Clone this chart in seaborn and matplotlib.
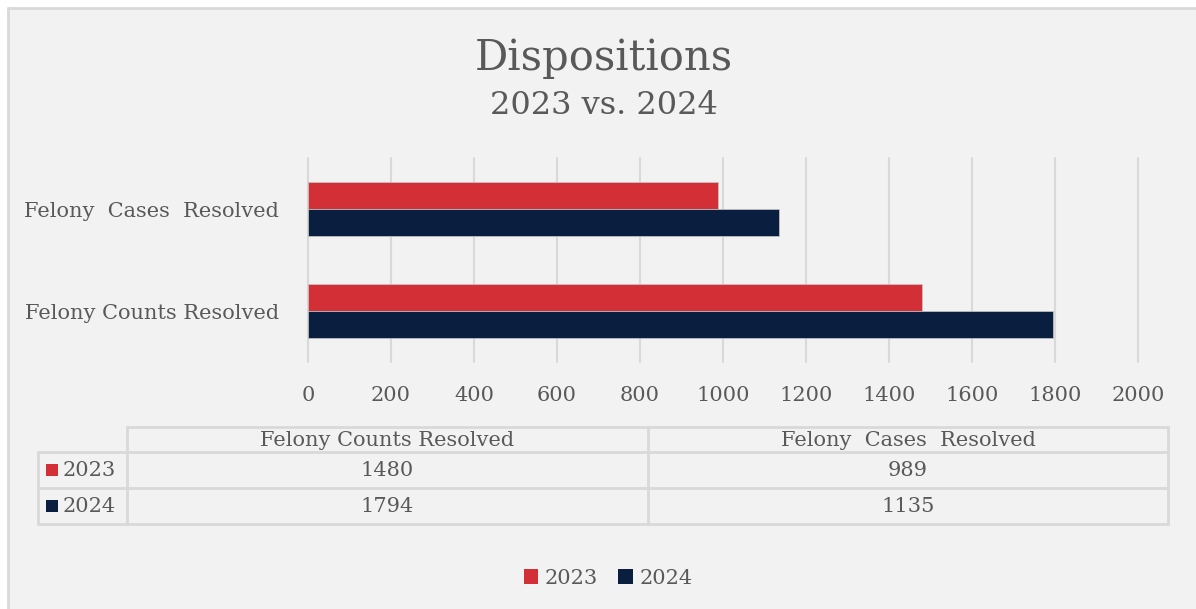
import matplotlib
matplotlib.use("Agg")
import matplotlib.pyplot as plt
from matplotlib.patches import Rectangle, Patch
import pandas as pd
import seaborn as sns

categories = ["Felony Counts Resolved", "Felony  Cases  Resolved"]
years = ["2023", "2024"]
values_2023 = [1480, 989]
values_2024 = [1794, 1135]
x_ticks = [0, 200, 400, 600, 800, 1000, 1200, 1400, 1600, 1800, 2000]

colors = {"2023": "#D32F36", "2024": "#0A1F3F"}
text_color = "#595959"
grid_color = "#D9D9D9"

sns.set_theme(style="white")
plt.rcParams["font.family"] = ["DejaVu Serif"]

W, H = 1196, 609
df = pd.DataFrame({
    "category": categories * 2,
    "year": ["2023"] * len(categories) + ["2024"] * len(categories),
    "value": values_2023 + values_2024,
})

fig = plt.figure(figsize=(W / 100, H / 100), dpi=100, facecolor="white")

# overlay in pixel coordinates for frame, titles and data table
over = fig.add_axes([0, 0, 1, 1], zorder=0)
over.set_xlim(0, W)
over.set_ylim(H, 0)
over.axis("off")
over.add_patch(Rectangle((8, 8), W, H, facecolor="#F2F2F2", edgecolor="none"))
over.plot([8, W], [8, 8], color=grid_color, lw=2)
over.plot([8, 8], [8, H], color=grid_color, lw=2)

over.text(604, 58, "Dispositions", ha="center", va="center",
          fontsize=30, color=text_color)
over.text(604, 106, "2023 vs. 2024", ha="center", va="center",
          fontsize=23, color=text_color)

# bar chart
ax = fig.add_axes([308 / W, 1 - 362 / H, 830 / W, 204 / H], zorder=1)
ax.set_facecolor("none")
sns.barplot(data=df, y="category", x="value", hue="year",
            order=categories[::-1], hue_order=years,
            palette=colors, width=0.52, orient="h", saturation=1,
            edgecolor="#C8C8C8", linewidth=0.5, legend=False, ax=ax)
ax.set_xlim(0, 2000)
ax.set_ylim(1.5, -0.5)
ax.set_xticks(x_ticks)
ax.xaxis.grid(True, color=grid_color, lw=1.5)
for gl in ax.get_xgridlines():
    gl.set_clip_on(False)
ax.set_axisbelow(True)
for s in ax.spines.values():
    s.set_visible(False)
ax.tick_params(axis="x", length=0, pad=17, labelsize=15, labelcolor=text_color)
ax.tick_params(axis="y", length=0, pad=21, labelsize=15, labelcolor=text_color)
ax.set_xlabel("")
ax.set_ylabel("")

# data table
tc = dict(color=grid_color, lw=2)
col_x = [127, 648, 1168]
row_y = [427, 452, 488, 524]
over.plot([127, 1168], [427, 427], **tc)
for y in row_y[1:]:
    over.plot([38, 1168], [y, y], **tc)
for x in col_x:
    over.plot([x, x], [427, 524], **tc)
over.plot([38, 38], [452, 524], **tc)

for j, cat in enumerate(categories):
    cx = (col_x[j] + col_x[j + 1]) / 2
    over.text(cx, 440, cat, ha="center", va="center", fontsize=15, color=text_color)
    for i, vals in enumerate([values_2023, values_2024]):
        cy = (row_y[i + 1] + row_y[i + 2]) / 2
        over.text(cx, cy, str(vals[j]), ha="center", va="center",
                  fontsize=15, color=text_color)
for i, yr in enumerate(years):
    cy = (row_y[i + 1] + row_y[i + 2]) / 2
    over.add_patch(Rectangle((46, cy - 6), 12, 12, color=colors[yr], lw=0))
    over.text(63, cy, yr, ha="left", va="center", fontsize=15, color=text_color)

# legend
handles = [Patch(facecolor=colors[y], edgecolor="none", label=y) for y in years]
fig.legend(handles=handles, loc="center", bbox_to_anchor=(608 / W, 1 - 578 / H),
           ncol=2, frameon=False, fontsize=15, handlelength=0.7, handleheight=0.7,
           handletextpad=0.3, columnspacing=1.0, labelcolor=text_color)

fig.savefig("out.png", dpi=100, facecolor="white")
